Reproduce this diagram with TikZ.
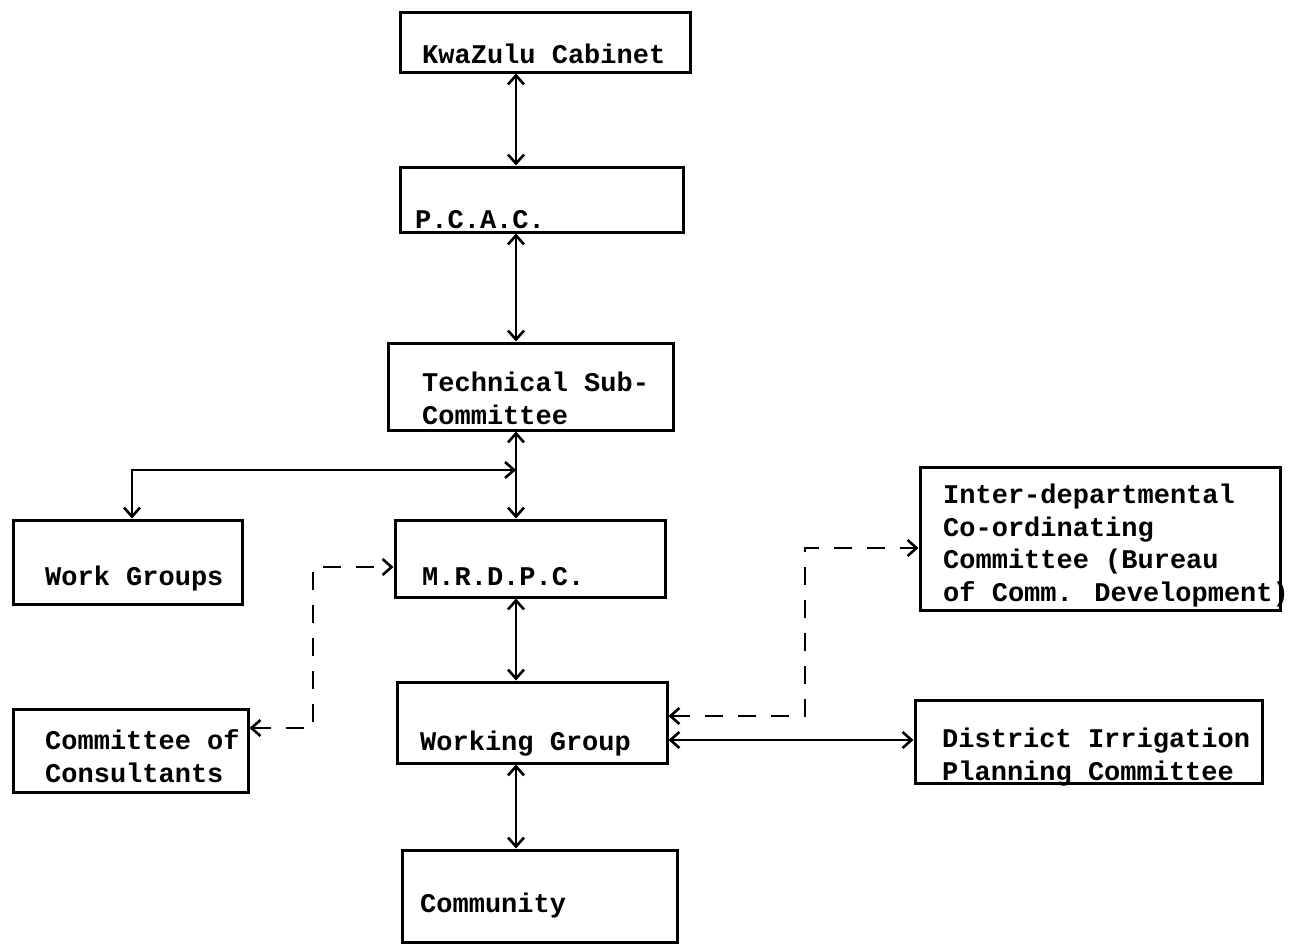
\documentclass[tikz,border=0pt]{standalone}
\usepackage{fontspec}
\newfontfamily\tw{Liberation Mono}
\usetikzlibrary{arrows.meta,calc}
\begin{document}
\begin{tikzpicture}[x=1pt,y=-1pt,
  box/.style={draw, line width=3pt, rectangle, inner sep=0pt},
  lbl/.style={anchor=base west, inner sep=0pt, align=left, font=\tw\bfseries\fontsize{27}{32.5}\selectfont},
  arr/.style={line width=2.6pt, {Straight Barb[length=9pt,width=16pt,line width=2.6pt]}-{Straight Barb[length=9pt,width=16pt,line width=2.6pt]}},
  darr/.style={arr, dash pattern=on 18pt off 15pt}]
\useasboundingbox (0,0) rectangle (1291,945);
% boxes
\node[box, minimum width=290pt, minimum height=60pt] (kc) at (545,42) {};
\node[box, minimum width=283pt, minimum height=65pt] (pcac) at (541.5,199.5) {};
\node[box, minimum width=285pt, minimum height=87pt] (tsc) at (530.5,386.5) {};
\node[box, minimum width=270pt, minimum height=77pt] (mrd) at (530,558.5) {};
\node[box, minimum width=229pt, minimum height=84pt] (wgs) at (127.5,562) {};
\node[box, minimum width=235pt, minimum height=83pt] (cc) at (130.5,750.5) {};
\node[box, minimum width=270pt, minimum height=81pt] (wkg) at (532,722.5) {};
\node[box, minimum width=275pt, minimum height=92pt] (com) at (539.5,896) {};
\node[box, minimum width=360pt, minimum height=143pt] (idc) at (1100,538.5) {};
\node[box, minimum width=347pt, minimum height=83pt] (dip) at (1088.5,741.5) {};
% labels (anchor = baseline of the last line)
\node[lbl] (tkc) at (422,63) {KwaZulu Cabinet};
\node[lbl] (tpcac) at (415,228) {P.C.A.C.};
\node[lbl] (ttsc) at (422,424) {Technical Sub-\\Committee};
\node[lbl] (tmrd) at (422,585) {M.R.D.P.C.};
\node[lbl] (twgs) at (45,585) {Work Groups};
\node[lbl] (tcc) at (45,782) {Committee of\\Consultants};
\node[lbl] (twkg) at (420,750) {Working Group};
\node[lbl] (tcom) at (420,912) {Community};
\node[lbl] (tidc) at (943,601) {Inter-departmental\\Co-ordinating\\Committee (Bureau\\of Comm. Development)};
\node[lbl] (tdip) at (942,780) {District Irrigation\\Planning Committee};
% helper coordinates
\coordinate (sp) at (516,0);
\coordinate (j) at (516,470);
\coordinate (wx) at (132,0);
\coordinate (lv) at (313,0);
\coordinate (ly1) at (0,728);
\coordinate (ly2) at (0,567);
\coordinate (rv) at (805,0);
\coordinate (ry1) at (0,716);
\coordinate (ry2) at (0,548);
\coordinate (ry3) at (0,740);
% connectors
\draw[arr] (kc.south -| sp) -- (pcac.north -| sp);
\draw[arr] (pcac.south -| sp) -- (tsc.north -| sp);
\draw[arr] (tsc.south -| sp) -- (mrd.north -| sp);
\draw[arr] (wgs.north -| wx) |- (j);
\draw[arr] (mrd.south -| sp) -- (wkg.north -| sp);
\draw[arr] (wkg.south -| sp) -- (com.north -| sp);
\draw[darr] (cc.east |- ly1) -| (lv |- ly2) -- (mrd.west |- ly2);
\draw[darr] (wkg.east |- ry1) -| (rv |- ry2) -- (idc.west |- ry2);
\draw[arr] (wkg.east |- ry3) -- (dip.west |- ry3);
\end{tikzpicture}
\end{document}
